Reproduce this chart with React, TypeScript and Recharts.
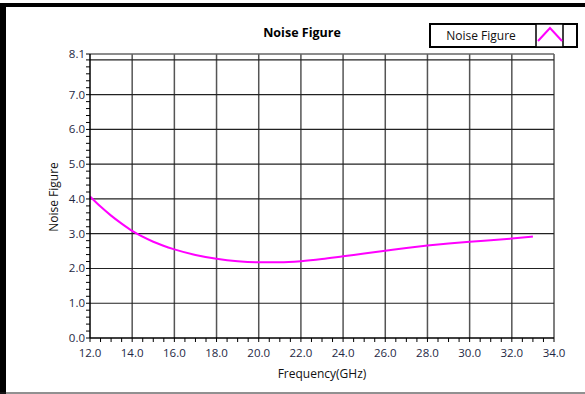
import React from 'react';
import { LineChart, Line, XAxis, YAxis, ReferenceLine } from 'recharts';

const frequencies = [12, 12.5, 13, 13.5, 14, 15, 16, 17, 18, 19, 20, 21, 22, 23, 24, 25, 26, 27, 28, 29, 30, 31, 32, 33];
const noiseFigure = [4.07, 3.78, 3.52, 3.29, 3.08, 2.77, 2.55, 2.39, 2.28, 2.21, 2.18, 2.18, 2.21, 2.27, 2.35, 2.43, 2.51, 2.59, 2.66, 2.72, 2.77, 2.81, 2.86, 2.92];

const xMajor = [12, 14, 16, 18, 20, 22, 24, 26, 28, 30, 32, 34];
const yMajor = [0, 1, 2, 3, 4, 5, 6, 7, 8];
const yTop = 8.17;
const yLabels = ['0.0', '1.0', '2.0', '3.0', '4.0', '5.0', '6.0', '7.0'];

const xTicks: number[] = [];
for (let i = 0; i <= 44; i++) xTicks.push(12 + i * 0.5);
const yTicks: number[] = [];
for (let i = 0; i <= 40; i++) yTicks.push(i / 5);
yTicks.push(yTop);

const data = frequencies.map((f, i) => ({ f, nf: noiseFigure[i] }));

const FONT = '"Open Sans", "Noto Sans", sans-serif';
const TICK_COLOR = '#1e2844';

const isInt = (v: number) => Math.abs(v - Math.round(v)) < 1e-6;

const XTick = (props: any) => {
  const { x, y, payload } = props;
  const v = payload.value as number;
  if (!xMajor.some((m) => Math.abs(m - v) < 1e-6)) return null;
  return (
    <text x={x} y={y + 13} textAnchor="middle" fontFamily={FONT} fontSize={11.5} fill={TICK_COLOR}>
      {v.toFixed(1)}
    </text>
  );
};

const YTick = (props: any) => {
  const { x, y, payload } = props;
  const v = payload.value as number;
  let label = '';
  if (v === yTop) label = (Math.floor(v * 10) / 10).toFixed(1);
  else if (isInt(v) && Math.round(v) < 8) label = yLabels[Math.round(v)];
  if (!label) return null;
  return (
    <text x={x + 1} y={y + 4} textAnchor="end" fontFamily={FONT} fontSize={11.5} fill={TICK_COLOR}>
      {label}
    </text>
  );
};

export default function App() {
  return (
    <div style={{ position: 'absolute', left: 0, top: 0, width: 585, height: 394, background: '#fff' }}>
      <LineChart width={585} height={394} data={data} margin={{ top: 54, right: 31, bottom: 0, left: 0 }}>
        {xMajor.slice(1).map((v) => (
          <ReferenceLine key={'x' + v} x={v} stroke="#555" strokeWidth={1.5} />
        ))}
        {yMajor.slice(1).map((v) => (
          <ReferenceLine key={'y' + v} y={v} stroke="#222" strokeWidth={1.2} />
        ))}
        <ReferenceLine y={yTop} stroke="#666" strokeWidth={1.5} />
        <XAxis
          dataKey="f"
          type="number"
          domain={[12, 34]}
          ticks={xTicks}
          interval={0}
          height={56}
          tickSize={4}
          tickLine={{ stroke: '#000' }}
          axisLine={{ stroke: '#000', strokeWidth: 1.5 }}
          tick={<XTick />}
        />
        <YAxis
          type="number"
          domain={[0, yTop]}
          ticks={yTicks}
          interval={0}
          width={90}
          tickSize={4}
          tickLine={{ stroke: '#000' }}
          axisLine={{ stroke: '#000', strokeWidth: 1.5 }}
          tick={<YTick />}
        />
        <Line
          type="monotone"
          dataKey="nf"
          stroke="#ff00ff"
          strokeWidth={2}
          dot={false}
          isAnimationActive={false}
        />
      </LineChart>
      <svg width={585} height={394} style={{ position: 'absolute', left: 0, top: 0, pointerEvents: 'none' }}>
        <rect x={0} y={3} width={585} height={4} fill="#000" />
        <rect x={0} y={3} width={6} height={391} fill="#000" />
        <line x1={0} y1={393} x2={585} y2={393} stroke="#222" strokeWidth={1} />
        <text x={302} y={37} textAnchor="middle" fontFamily={FONT} fontSize={12.5} fontWeight="bold" fill="#000">
          Noise Figure
        </text>
        <text x={322} y={378} textAnchor="middle" fontFamily={FONT} fontSize={12} fill="#111">
          Frequency(GHz)
        </text>
        <text
          x={0}
          y={0}
          transform="translate(58,197) rotate(-90)"
          textAnchor="middle"
          fontFamily={FONT}
          fontSize={12}
          fill="#111"
        >
          Noise Figure
        </text>
        <g>
          <rect x={430} y={24} width={147} height={23} fill="#fff" stroke="#000" strokeWidth={2} />
          <text x={481} y={40} textAnchor="middle" fontFamily={FONT} fontSize={12} fill="#111">
            Noise Figure
          </text>
          <rect x={536} y={24} width={27} height={23} fill="#fff" stroke="#000" strokeWidth={1.5} />
          <polyline points="538,41 550,28 562,41" fill="none" stroke="#ff00ff" strokeWidth={2} />
        </g>
      </svg>
    </div>
  );
}
